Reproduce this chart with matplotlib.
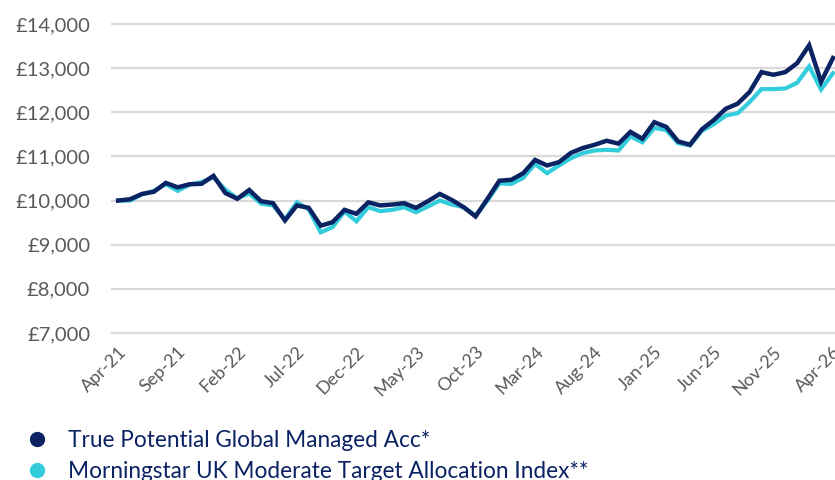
import matplotlib
matplotlib.use("Agg")
import matplotlib.pyplot as plt
from matplotlib.lines import Line2D
import matplotlib.ticker as ticker

plt.rcParams['font.family'] = ['Lato', 'DejaVu Sans']

# monthly values, Apr-21 .. Apr-26 (61 months)
months = ['Apr-21', 'May-21', 'Jun-21', 'Jul-21', 'Aug-21', 'Sep-21', 'Oct-21', 'Nov-21', 'Dec-21',
          'Jan-22', 'Feb-22', 'Mar-22', 'Apr-22', 'May-22', 'Jun-22', 'Jul-22', 'Aug-22', 'Sep-22',
          'Oct-22', 'Nov-22', 'Dec-22', 'Jan-23', 'Feb-23', 'Mar-23', 'Apr-23', 'May-23', 'Jun-23',
          'Jul-23', 'Aug-23', 'Sep-23', 'Oct-23', 'Nov-23', 'Dec-23', 'Jan-24', 'Feb-24', 'Mar-24',
          'Apr-24', 'May-24', 'Jun-24', 'Jul-24', 'Aug-24', 'Sep-24', 'Oct-24', 'Nov-24', 'Dec-24',
          'Jan-25', 'Feb-25', 'Mar-25', 'Apr-25', 'May-25', 'Jun-25', 'Jul-25', 'Aug-25', 'Sep-25',
          'Oct-25', 'Nov-25', 'Dec-25', 'Jan-26', 'Feb-26', 'Mar-26', 'Apr-26']

fund = [10000, 10030, 10150, 10200, 10400, 10300, 10370, 10380, 10560, 10170,
        10040, 10240, 9985, 9940, 9550, 9890, 9835, 9430, 9510, 9790,
        9700, 9960, 9890, 9910, 9940, 9835, 9985, 10150, 10015, 9850,
        9640, 10040, 10450, 10470, 10620, 10920, 10795, 10870, 11080, 11190,
        11265, 11355, 11290, 11555, 11400, 11775, 11670, 11340, 11265, 11615,
        11825, 12080, 12195, 12460, 12910, 12850, 12910, 13115, 13520, 12690, 13230]

index = [10000, 10000, 10140, 10220, 10370, 10220, 10360, 10420, 10530, 10250,
         10050, 10160, 9930, 9890, 9570, 9960, 9800, 9280, 9400, 9750,
         9530, 9850, 9760, 9790, 9850, 9735, 9865, 10000, 9910, 9850,
         9660, 10000, 10390, 10375, 10515, 10830, 10620, 10795, 10960, 11075,
         11135, 11150, 11135, 11455, 11320, 11645, 11600, 11300, 11250, 11580,
         11730, 11925, 11980, 12230, 12525, 12525, 12540, 12670, 13040, 12515, 12885]

fund_name = 'True Potential Global Managed Acc*'
index_name = 'Morningstar UK Moderate Target Allocation Index**'

navy = '#0b2263'
cyan = '#33ccdb'
grey = '#595959'

fig = plt.figure(figsize=(8.35, 4.8), dpi=100)
ax = fig.add_axes([111 / 835, 1 - 335.2 / 480, 724 / 835, 313.4 / 480])

x = list(range(len(months)))
ax.plot(x, index, color=cyan, lw=3.0, solid_joinstyle='miter', zorder=3)
ax.plot(x, fund, color=navy, lw=3.2, solid_joinstyle='miter', zorder=4)

ax.set_xlim(-0.6, 60.17)
ax.set_ylim(6950, 14050)
ax.yaxis.set_major_locator(ticker.MultipleLocator(1000))
ax.yaxis.set_major_formatter(ticker.FuncFormatter(lambda v, p: f'£{v:,.0f}'))
ax.set_xticks(x[::5])
ax.set_xticklabels(months[::5], rotation=45, ha='right', va='top', rotation_mode='anchor')

ax.grid(axis='y', color='#d9d9d9', lw=1.6)
ax.set_axisbelow(True)
for s in ax.spines.values():
    s.set_visible(False)
ax.tick_params(axis='both', length=0, colors=grey)
ax.tick_params(axis='y', labelsize=14.5, pad=15)
ax.tick_params(axis='x', labelsize=13, pad=6)

handles = [Line2D([], [], ls='none', marker='o', ms=10, color=navy),
           Line2D([], [], ls='none', marker='o', ms=10, color=cyan)]
leg = fig.legend(handles, [fund_name, index_name], loc='upper left',
                 bbox_to_anchor=(23 / 835, 1 - 430 / 480), frameon=False,
                 fontsize=16.3, labelspacing=0.42, handletextpad=0.8, handlelength=1.2,
                 borderaxespad=0, borderpad=0)
for t in leg.get_texts():
    t.set_color(navy)

fig.savefig('out.png', dpi=100)
